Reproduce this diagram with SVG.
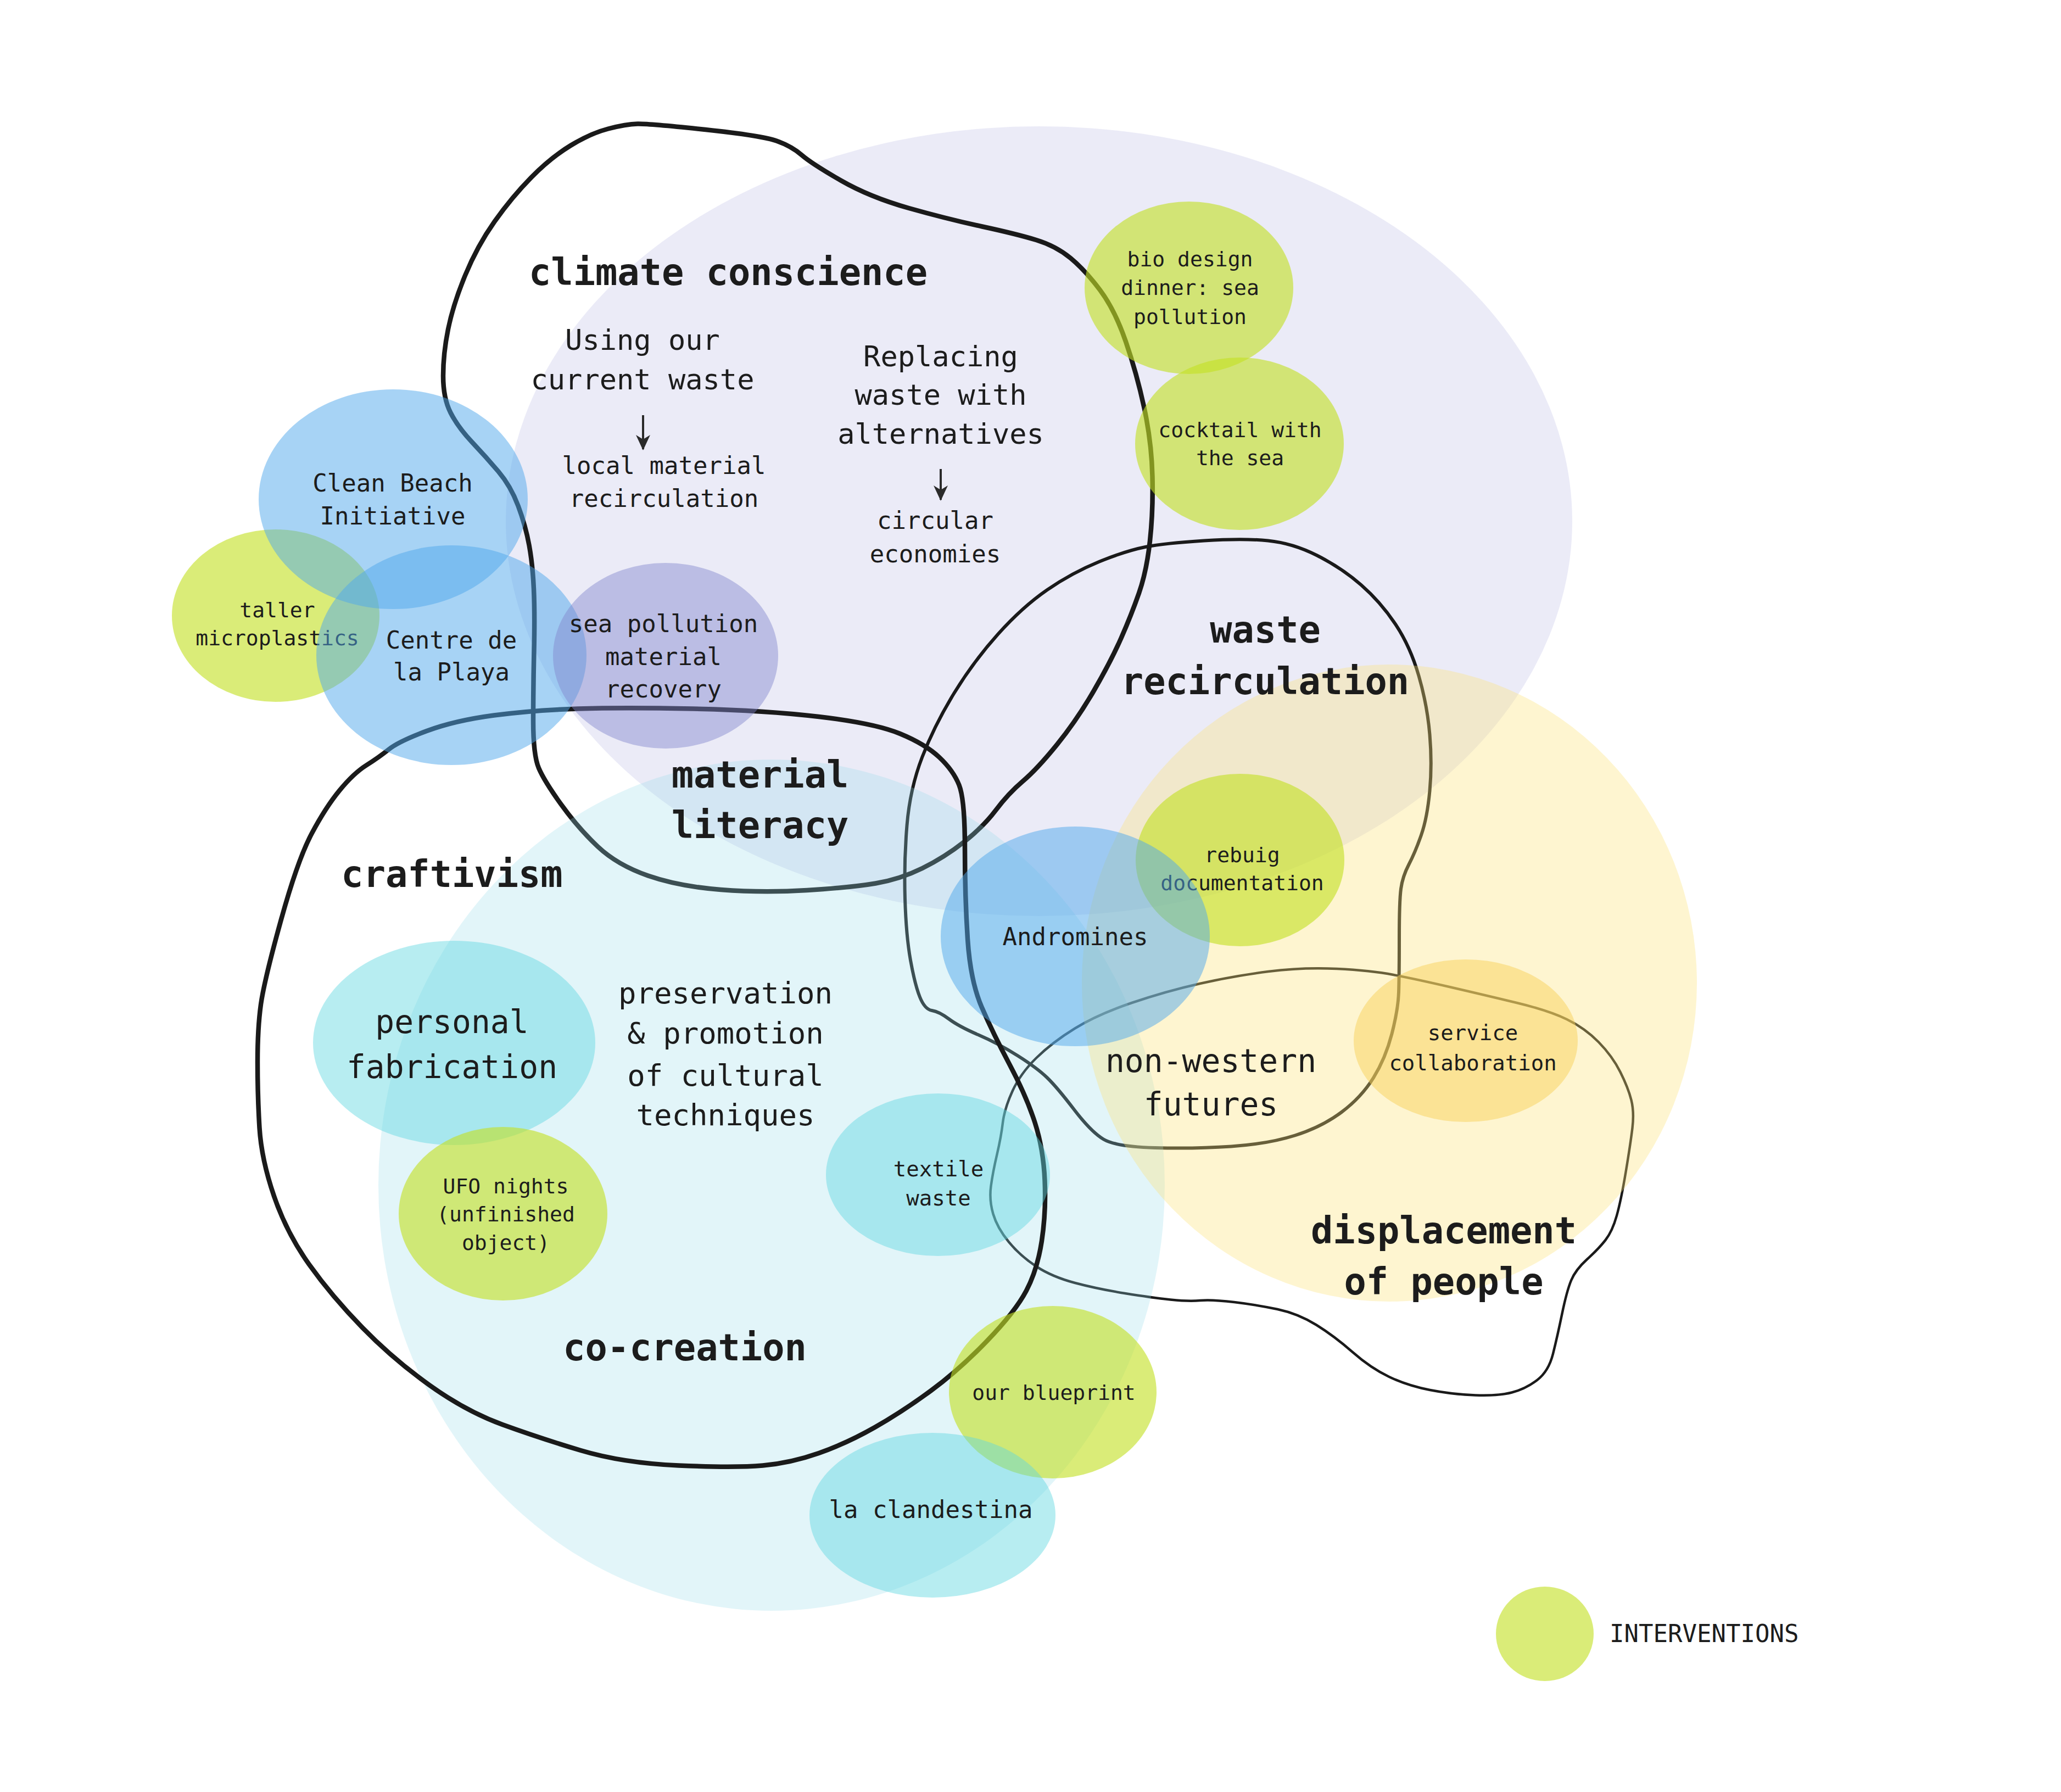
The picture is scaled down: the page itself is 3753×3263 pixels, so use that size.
<svg xmlns="http://www.w3.org/2000/svg" width="3753" height="3263" viewBox="0 0 3753 3263">
<style>
.rl{fill:#c5c5e8;fill-opacity:.35}
.rc{fill:#96dce8;fill-opacity:.28}
.ry{fill:#fce178;fill-opacity:.35}
.g{fill:#c4e125;fill-opacity:.62}
.b{fill:#4fa7eb;fill-opacity:.5}
.p{fill:#8084cc;fill-opacity:.45}
.c{fill:#5fd8e0;fill-opacity:.45}
.o{fill:#f7d25a;fill-opacity:.5}
.ol{fill:none;stroke:#1a1a1a;stroke-linecap:round;stroke-linejoin:round}
text{font-family:'DejaVu Sans Mono','Liberation Mono',monospace;fill:#1c1c1c;text-anchor:middle}
.h{font-weight:bold;font-size:67px}
.t38{font-size:38px}
.t40{font-size:39px}
.t44{font-size:44px}
.t52{font-size:52px}
.t54{font-size:54px}
.t58{font-size:58px}
.arr{stroke:#2a2a2a;stroke-width:4}
</style>
<defs>
<marker id="ah" viewBox="0 0 28 28" refX="26" refY="14" markerWidth="28" markerHeight="28" markerUnits="userSpaceOnUse" orient="auto">
<path d="M0,1 L28,14 L0,27 L8,14 Z" fill="#2a2a2a"/>
</marker>
</defs>
<rect width="3753" height="3263" fill="#ffffff"/>

<g id="region-climate-bg"><ellipse class="rl" cx="1892" cy="949" rx="971" ry="719"/></g>

<g id="outlines-back">
<path class="ol" stroke-width="8.5" d="M1161,225.5 Q1182,225 1284.5,236 Q1387,247 1414,256.5 Q1441,266 1459.5,282 Q1478,298 1531,328.5 Q1584,359 1655,379 Q1726,399 1788.5,412.5 Q1851,426 1887,437 Q1923,448 1949.5,470 Q1976,492 2003,528 Q2030,564 2050,622 Q2070,680 2083.5,742.5 Q2097,805 2098.5,867.5 Q2100,930 2094,985 Q2088,1040 2074,1080 Q2060,1120 2041.5,1162 Q2023,1204 1992,1257.5 Q1961,1311 1925,1355.5 Q1889,1400 1862.5,1422.5 Q1836,1445 1813.5,1475 Q1791,1505 1755.5,1533 Q1720,1561 1679.5,1581 Q1639,1601 1594.5,1608.5 Q1550,1616 1469.5,1621 Q1389,1626 1312.5,1620 Q1236,1614 1180,1594.5 Q1124,1575 1088.5,1541.5 Q1053,1508 1022,1465 Q991,1422 981,1398.5 Q971,1375 971,1312.5 Q971,1250 972.5,1183.5 Q974,1117 972,1072.5 Q970,1028 963.5,992.5 Q957,957 943.5,921 Q930,885 907.5,858.5 Q885,832 859.5,805 Q834,778 820.5,751.5 Q807,725 807,684.5 Q807,644 816,599.5 Q825,555 847,501.5 Q869,448 900.5,403.5 Q932,359 967.5,323 Q1003,287 1039,265 Q1075,243 1107.5,234.5 Q1140,226 1161,225.5 Z"/>
<path class="ol" stroke-width="6" d="M2085.5,996 Q2121,989 2192.5,984.5 Q2264,980 2309,984.5 Q2354,989 2398.5,1011.5 Q2443,1034 2478.5,1065 Q2514,1096 2541,1136.5 Q2568,1177 2583.5,1230.5 Q2599,1284 2603.5,1337.5 Q2608,1391 2603.5,1440 Q2599,1489 2588,1520.5 Q2577,1552 2565.5,1574 Q2554,1596 2551,1618.5 Q2548,1641 2548,1708 Q2548,1775 2547,1806.5 Q2546,1838 2534.5,1882.5 Q2523,1927 2501,1962.5 Q2479,1998 2443,2025 Q2407,2052 2358,2067.5 Q2309,2083 2242,2087.5 Q2175,2092 2103.5,2090 Q2032,2088 2009.5,2074.5 Q1987,2061 1956,2020.5 Q1925,1980 1907,1962.5 Q1889,1945 1853.5,1922.5 Q1818,1900 1782,1884.5 Q1746,1869 1728,1855.5 Q1710,1842 1697,1840 Q1684,1838 1675,1815.5 Q1666,1793 1658,1748.5 Q1650,1704 1648,1637 Q1646,1570 1651.5,1503 Q1657,1436 1679.5,1378 Q1702,1320 1737.5,1262 Q1773,1204 1817.5,1154.5 Q1862,1105 1907,1074 Q1952,1043 2001,1023 Q2050,1003 2085.5,996 Z"/>
<path class="ol" stroke-width="4.5" d="M2309.5,1769 Q2372,1761 2434,1764 Q2496,1767 2537.5,1775 Q2579,1783 2641.5,1797.5 Q2704,1812 2762,1826 Q2820,1840 2853,1856 Q2886,1872 2911,1897.5 Q2936,1923 2950.5,1952 Q2965,1981 2970.5,2003 Q2976,2025 2972.5,2054 Q2969,2083 2960.5,2134 Q2952,2185 2944,2213.5 Q2936,2242 2923.5,2258 Q2911,2274 2890,2293 Q2869,2312 2861,2331.5 Q2853,2351 2844.5,2392 Q2836,2433 2828,2465 Q2820,2497 2799,2513 Q2778,2529 2753,2535.5 Q2728,2542 2686.5,2540.5 Q2645,2539 2604,2531 Q2563,2523 2529.5,2507 Q2496,2491 2463,2462 Q2430,2433 2397,2412.5 Q2364,2392 2326.5,2384 Q2289,2376 2247.5,2371 Q2206,2366 2185.5,2368 Q2165,2370 2131.5,2366.5 Q2098,2363 2048.5,2355 Q1999,2347 1957.5,2336 Q1916,2325 1887,2306 Q1858,2287 1837,2261.5 Q1816,2236 1808.5,2210.5 Q1801,2185 1804.5,2159.5 Q1808,2134 1815.5,2102 Q1823,2070 1826,2044.5 Q1829,2019 1843.5,1987 Q1858,1955 1887,1926.5 Q1916,1898 1957.5,1872.5 Q1999,1847 2061,1826 Q2123,1805 2185,1791 Q2247,1777 2309.5,1769 Z"/>
</g>

<g id="region-cocreation-bg"><ellipse class="rc" cx="1405" cy="2158" rx="716" ry="775"/></g>
<g id="region-displacement-bg"><ellipse class="ry" cx="2530" cy="1790" rx="560" ry="580"/></g>

<g id="outline-craftivism">
<path class="ol" stroke-width="8.5" d="M708,1364.5 Q726,1350 777,1331 Q828,1312 899.5,1302.5 Q971,1293 1052.5,1290.5 Q1134,1288 1261.5,1290.5 Q1389,1293 1491,1305 Q1593,1317 1639,1336 Q1685,1355 1710.5,1379 Q1736,1403 1746.5,1429.5 Q1757,1456 1757,1544.5 Q1757,1633 1762,1709.5 Q1767,1786 1787.5,1833.5 Q1808,1881 1838.5,1938.5 Q1869,1996 1884.5,2044 Q1900,2092 1902.5,2149.5 Q1905,2207 1897,2259.5 Q1889,2312 1869,2350 Q1849,2388 1798,2441 Q1747,2494 1695.5,2532 Q1644,2570 1593,2599 Q1542,2628 1491,2646 Q1440,2664 1389,2668.5 Q1338,2673 1236,2668.5 Q1134,2664 1057.5,2641 Q981,2618 915,2594 Q849,2570 782.5,2522.5 Q716,2475 660,2417.5 Q604,2360 563,2302.5 Q522,2245 499,2178 Q476,2111 472.5,2053.5 Q469,1996 469,1934 Q469,1872 475,1829 Q481,1786 511.5,1676 Q542,1566 567.5,1518 Q593,1470 618.5,1439 Q644,1408 667,1393.5 Q690,1379 708,1364.5 Z"/>
</g>

<g id="connectors">
<line class="arr" x1="1171" y1="756" x2="1171" y2="818" marker-end="url(#ah)"/>
<line class="arr" x1="1713" y1="854" x2="1713" y2="910" marker-end="url(#ah)"/>
</g>

<g id="node-bio-design">
<ellipse class="g" cx="2165" cy="524" rx="190" ry="157"/>
<text class="t38"><tspan x="2167" y="485">bio design</tspan><tspan x="2167" y="537">dinner: sea</tspan><tspan x="2167" y="590">pollution</tspan></text>
</g>
<g id="node-cocktail">
<ellipse class="g" cx="2257" cy="808" rx="190" ry="157"/>
<text class="t38"><tspan x="2258" y="796">cocktail with</tspan><tspan x="2258" y="847">the sea</tspan></text>
</g>
<g id="node-taller">
<ellipse class="g" cx="502" cy="1121" rx="189" ry="157"/>
<text class="t38"><tspan x="505" y="1124">taller</tspan><tspan x="505" y="1175">microplastics</tspan></text>
</g>
<g id="node-clean-beach">
<ellipse class="b" cx="716" cy="909" rx="245" ry="200"/>
<text class="t44"><tspan x="715" y="895">Clean Beach</tspan><tspan x="715" y="955">Initiative</tspan></text>
</g>
<g id="node-centre-playa">
<ellipse class="b" cx="822" cy="1193" rx="246" ry="200"/>
<text class="t44"><tspan x="822" y="1181">Centre de</tspan><tspan x="822" y="1239">la Playa</tspan></text>
</g>
<g id="node-sea-pollution">
<ellipse class="p" cx="1212" cy="1194" rx="205" ry="169"/>
<text class="t44"><tspan x="1208" y="1151">sea pollution</tspan><tspan x="1208" y="1211">material</tspan><tspan x="1208" y="1270">recovery</tspan></text>
</g>
<g id="node-rebuig">
<ellipse class="g" cx="2258" cy="1566" rx="190" ry="157"/>
<text class="t38"><tspan x="2262" y="1570">rebuig</tspan><tspan x="2262" y="1621">documentation</tspan></text>
</g>
<g id="node-andromines">
<ellipse class="b" cx="1958" cy="1705" rx="245" ry="200"/>
<text class="t44" x="1958" y="1721">Andromines</text>
</g>
<g id="node-service">
<ellipse class="o" cx="2669" cy="1895" rx="204" ry="148"/>
<text class="t40"><tspan x="2682" y="1894">service</tspan><tspan x="2682" y="1949">collaboration</tspan></text>
</g>
<g id="node-personal-fabrication">
<ellipse class="c" cx="827" cy="1899" rx="257" ry="186"/>
<text class="t58"><tspan x="823" y="1881">personal</tspan><tspan x="823" y="1963">fabrication</tspan></text>
</g>
<g id="node-ufo">
<ellipse class="g" cx="916" cy="2210" rx="190" ry="158"/>
<text class="t38"><tspan x="921" y="2173">UFO nights</tspan><tspan x="921" y="2224">(unfinished</tspan><tspan x="921" y="2276">object)</tspan></text>
</g>
<g id="node-textile">
<ellipse class="c" cx="1708" cy="2139" rx="204" ry="148"/>
<text class="t40"><tspan x="1709" y="2142">textile</tspan><tspan x="1709" y="2195">waste</tspan></text>
</g>
<g id="node-blueprint">
<ellipse class="g" cx="1917" cy="2535" rx="189" ry="157"/>
<text class="t38" x="1919" y="2549">our blueprint</text>
</g>
<g id="node-clandestina">
<ellipse class="c" cx="1698" cy="2759" rx="224" ry="150"/>
<text class="t44" x="1695" y="2764">la clandestina</text>
</g>

<g id="labels">
<text class="h" x="1326" y="519">climate conscience</text>
<text class="t52"><tspan x="1170" y="637">Using our</tspan><tspan x="1170" y="709">current waste</tspan></text>
<text class="t44"><tspan x="1209" y="863">local material</tspan><tspan x="1209" y="923">recirculation</tspan></text>
<text class="t52"><tspan x="1713" y="667">Replacing</tspan><tspan x="1713" y="737">waste with</tspan><tspan x="1713" y="808">alternatives</tspan></text>
<text class="t44"><tspan x="1703" y="963">circular</tspan><tspan x="1703" y="1024">economies</tspan></text>
<text class="h"><tspan x="2304" y="1170">waste</tspan><tspan x="2304" y="1264">recirculation</tspan></text>
<text class="h"><tspan x="1384" y="1434">material</tspan><tspan x="1384" y="1526">literacy</tspan></text>
<text class="h" x="823" y="1615">craftivism</text>
<text class="t54"><tspan x="1321" y="1827">preservation</tspan><tspan x="1321" y="1900">&amp; promotion</tspan><tspan x="1321" y="1977">of cultural</tspan><tspan x="1321" y="2049">techniques</tspan></text>
<text class="t58"><tspan x="2205" y="1952">non-western</tspan><tspan x="2205" y="2031">futures</tspan></text>
<text class="h" x="1247" y="2477">co-creation</text>
<text class="h"><tspan x="2629" y="2264">displacement</tspan><tspan x="2629" y="2357">of people</tspan></text>
</g>

<g id="legend">
<ellipse class="g" cx="2813" cy="2975" rx="89" ry="86"/>
<text class="t44" x="2931" y="2990" style="text-anchor:start">INTERVENTIONS</text>
</g>
</svg>
